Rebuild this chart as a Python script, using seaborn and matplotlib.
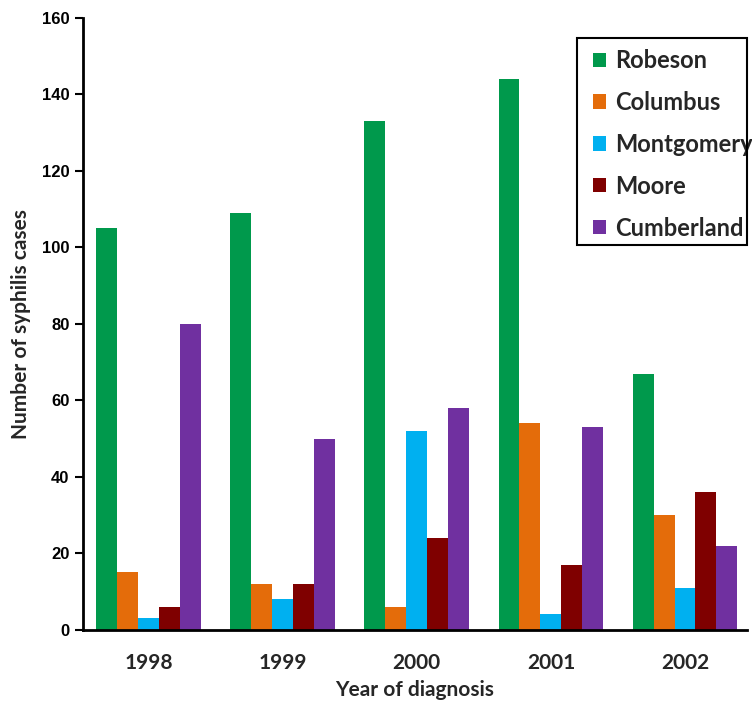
import matplotlib
matplotlib.use("Agg")
import matplotlib.pyplot as plt
import matplotlib.patches as mpatches
import seaborn as sns
import pandas as pd

years = ["1998", "1999", "2000", "2001", "2002"]
counties = ["Robeson", "Columbus", "Montgomery", "Moore", "Cumberland"]
robeson = [105, 109, 133, 144, 67]
columbus = [15, 12, 6, 54, 30]
montgomery = [3, 8, 52, 4, 11]
moore = [6, 12, 24, 17, 36]
cumberland = [80, 50, 58, 53, 22]
colors = ["#00994C", "#E46C0A", "#00B0F0", "#7F0000", "#7030A0"]

series = [robeson, columbus, montgomery, moore, cumberland]
rows = []
for c, vals in zip(counties, series):
    for y, v in zip(years, vals):
        rows.append({"Year": y, "County": c, "Cases": v})
df = pd.DataFrame(rows)

sns.set_style("white")
plt.rcParams["font.family"] = ["Liberation Sans", "DejaVu Sans"]

W, H = 752, 714
fig = plt.figure(figsize=(7.52, 7.14), dpi=100)
ax = fig.add_axes([0.110, 0.118, 0.883, 0.857])
sns.barplot(data=df, x="Year", y="Cases", hue="County", hue_order=counties,
            order=years, palette=colors, width=0.78, saturation=1,
            edgecolor="none", ax=ax)

ax.set_xlim(-0.49, 4.46)
ax.set_ylim(0, 160)
ax.set_yticks(range(0, 161, 20))
for s in ["top", "right"]:
    ax.spines[s].set_visible(False)
for s in ["left", "bottom"]:
    ax.spines[s].set_color("black")
    ax.spines[s].set_linewidth(2)
ax.tick_params(axis="y", direction="out", length=6, width=1.5, left=True, labelsize=12, colors="black")
ax.tick_params(axis="x", length=0, pad=17)
for lab in ax.get_yticklabels():
    lab.set_fontweight("bold")
for lab in ax.get_xticklabels():
    lab.set_fontweight("bold")
    lab.set_fontfamily(["Lato", "DejaVu Sans"])
    lab.set_fontsize(15)

ax.set_xlabel("Year of diagnosis", fontsize=15, fontweight="bold", family=["Lato", "DejaVu Sans"], labelpad=5)
ax.set_ylabel("Number of syphilis cases", fontsize=15, fontweight="bold", family=["Lato", "DejaVu Sans"], labelpad=8)

leg = ax.legend(title=None, loc="upper left", bbox_to_anchor=(593 / W, 1 - 49 / H),
                bbox_transform=fig.transFigure,
                prop={"family": "Lato", "weight": "bold", "size": 17},
                handlelength=0.55, handleheight=0.55, handletextpad=0.4,
                labelspacing=0.8, borderpad=0, borderaxespad=0, frameon=False)
fig.patches.append(mpatches.Rectangle((577 / W, 1 - 245 / H), 170 / W, 207 / H,
                                      transform=fig.transFigure, fill=False,
                                      edgecolor="black", linewidth=1.5))

fig.savefig("out.png", dpi=100)
